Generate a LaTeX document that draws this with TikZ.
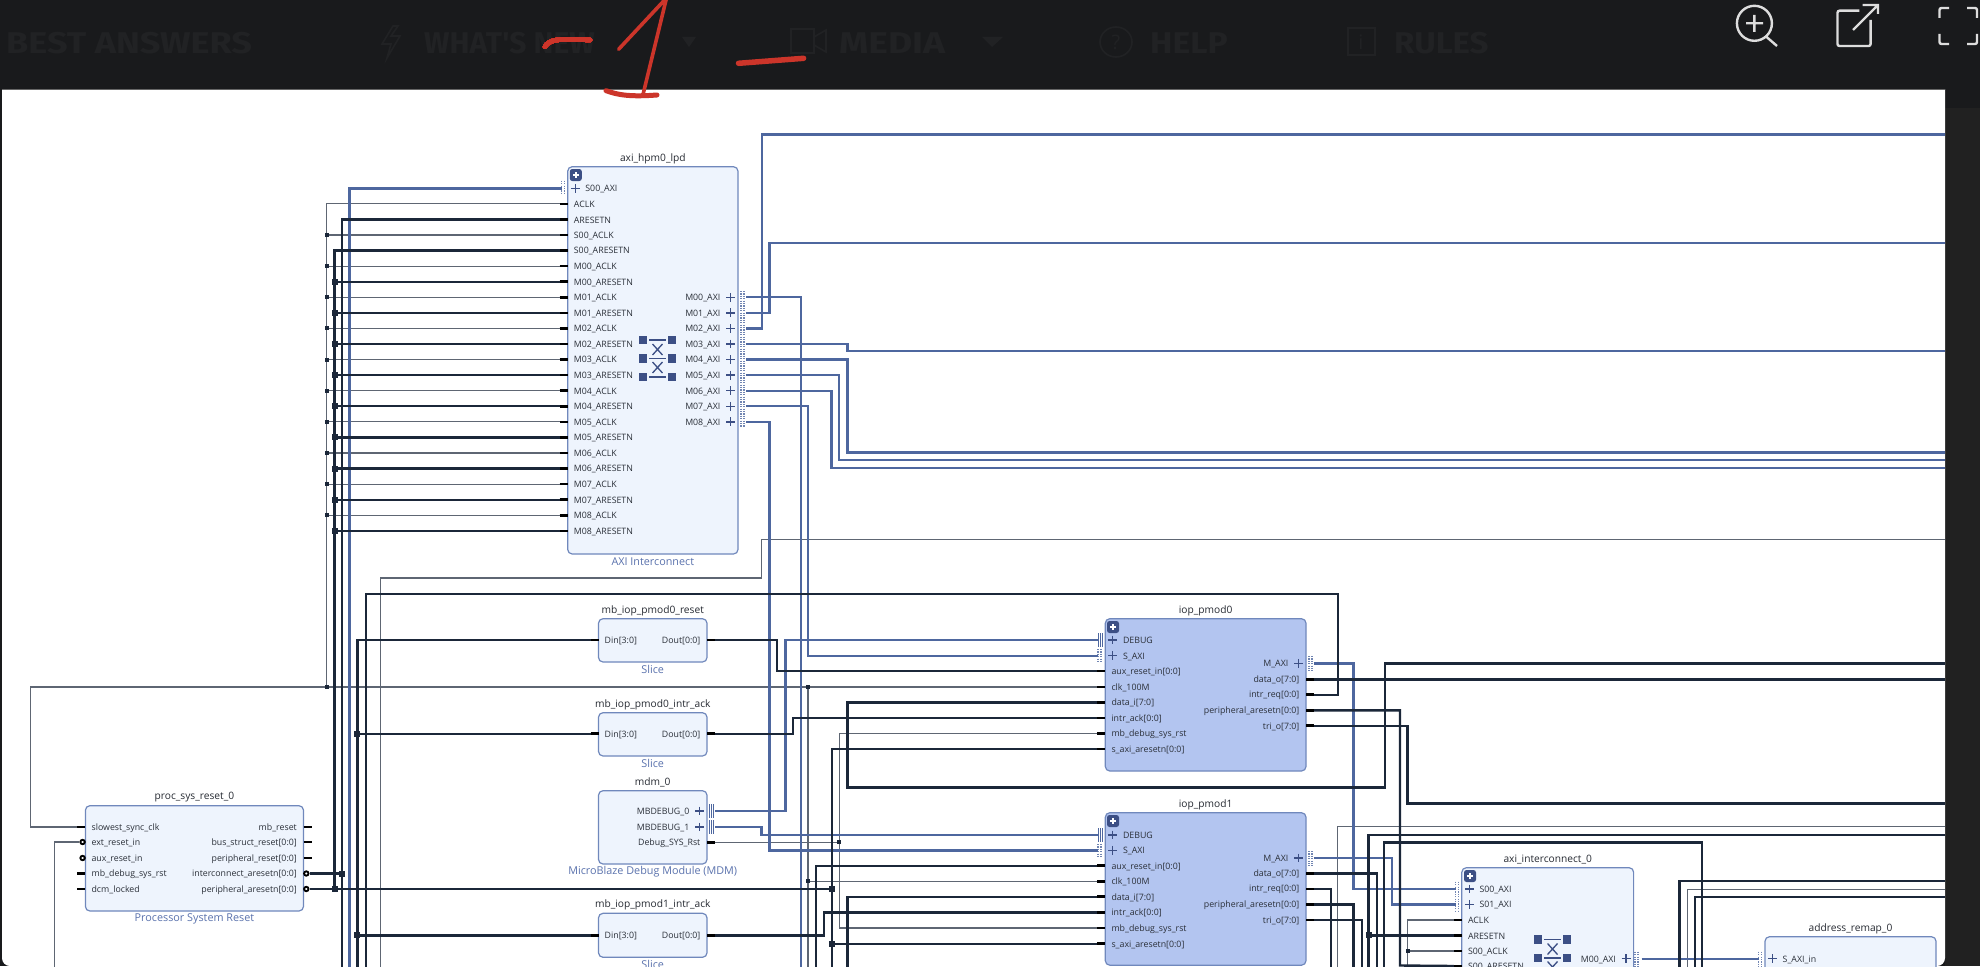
\documentclass[tikz,border=0pt]{standalone}
\usepackage{fontspec}
\setmainfont{Open Sans}
\newfontfamily\hdr{Fira Sans}
\definecolor{wthick}{HTML}{1B2739}
\definecolor{wthin}{HTML}{5E6673}
\definecolor{wblue}{HTML}{4E679F}
\definecolor{boxedge}{HTML}{7088BC}
\definecolor{boxfill}{HTML}{EEF4FD}
\definecolor{hierfill}{HTML}{B3C5F0}
\definecolor{navy}{HTML}{3C4F85}
\definecolor{lab}{HTML}{2A2F38}
\definecolor{sublab}{HTML}{5A72AD}
\definecolor{hbg}{HTML}{191A1C}
\definecolor{hfaint}{HTML}{212224}
\definecolor{scrib}{HTML}{CC352A}
\definecolor{icn}{HTML}{DDDDDD}
\tikzset{
  x=1pt,y=-1pt,
  thinw/.style={draw=wthin,line width=1.1pt},
  bluew/.style={draw=wblue,line width=2.4pt},
  thickw/.style={draw=wthick,line width=2.4pt},
  stub/.style={draw=black,line width=2.6pt},
  plabel/.style={text=lab,inner sep=0pt,font=\fontsize{8.8}{10}\selectfont},
  ttl/.style={text=lab!90!black,inner sep=0pt,font=\fontsize{10.2}{11}\selectfont},
  sub/.style={text=sublab,inner sep=0pt,font=\fontsize{10.8}{12}\selectfont},
  ip/.style={draw=boxedge,fill=boxfill,line width=1.2pt,rounded corners=4.5pt,inner sep=0pt,outer sep=0pt},
  hier/.style={draw=boxedge,fill=hierfill,line width=1.2pt,rounded corners=4.5pt,inner sep=0pt,outer sep=0pt},
  hdrtext/.style={text=hfaint,inner sep=0pt,font=\hdr\bfseries\fontsize{30}{32}\selectfont},
  hicon/.style={draw=hfaint,line width=1.6pt},
  icon/.style={draw=icn,line width=2.4pt},
  red/.style={draw=scrib,line width=4.5pt,line cap=round,line join=round}
}
\newcommand{\blockbox}[8]{% name,x1,y1,x2,y2,title,sub,style
  \node[#8,minimum width={(#4-#2)*1pt},minimum height={(#5-#3)*1pt}] (#1) at ({(#2+#4)/2},{(#3+#5)/2}) {};
  \node[ttl] (#1-title) at ({(#2+#4)/2},#3-8.3) {#6};
  \def\subtmp{#7}\ifx\subtmp\empty\else
  \node[sub] (#1-sub) at ({(#2+#4)/2},#5+7.5) {#7};\fi}
\newcommand{\portL}[4]{%
  \coordinate (#1) at (#2-8,#3);
  \draw[stub] (#2-8,#3) -- (#2,#3);
  \node[plabel,anchor=west] (#1-t) at (#2+6,#3+0.8) {#4};}
\newcommand{\portR}[4]{%
  \coordinate (#1) at (#2+8,#3);
  \draw[stub] (#2,#3) -- (#2+8,#3);
  \node[plabel,anchor=east] (#1-t) at (#2-6.5,#3+0.8) {#4};}
\newcommand{\invL}[4]{%
  \coordinate (#1) at (#2-6,#3);
  \node[plabel,anchor=west] (#1-t) at (#2+6,#3+0.8) {#4};
  \draw[black,line width=1.9pt,fill=white] (#2-2.8,#3) circle (2.2);}
\newcommand{\invR}[4]{%
  \coordinate (#1) at (#2+6,#3);
  \node[plabel,anchor=east] (#1-t) at (#2-6.5,#3+0.8) {#4};
  \draw[black,line width=1.9pt,fill=white] (#2+2.8,#3) circle (2.2);}
\newcommand{\plusmark}[2]{%
  \draw[navy,line width=1.3pt] (#1-4.4,#2) -- (#1+4.4,#2) (#1,#2-4.4) -- (#1,#2+4.4);}
\newcommand{\axiL}[5][-7]{% offset, name, edge, y, text
  \coordinate (#2) at (#3#1,#4);
  \plusmark{#3+7.5}{#4}
  \node[plabel,anchor=west] (#2-t) at (#3+17.5,#4+0.8) {#5};}
\newcommand{\axiR}[4]{%
  \coordinate (#1) at (#2+8,#3);
  \plusmark{#2-7.5}{#3}
  \node[plabel,anchor=east] (#1-t) at (#2-17.5,#3+0.8) {#4};}
\newcommand{\stripe}[3]{% x,y1,y2
  \draw[draw=wblue!80!white,line width=1.5pt,dash pattern=on 1.2pt off 1.2pt] (#1,#2) -- (#1,#3) (#1+3,#2) -- (#1+3,#3);}
\newcommand{\tripstripe}[3]{%
  \draw[draw=wblue,line width=.8pt] (#1,#2) -- (#1,#3) (#1+2.4,#2) -- (#1+2.4,#3) (#1+4.8,#2) -- (#1+4.8,#3);}
\newcommand{\btn}[2]{%
  \fill[navy,rounded corners=2.5pt] (#1-6,#2-6) rectangle (#1+6,#2+6);
  \draw[white,line width=1.5pt] (#1-3,#2) -- (#1+3,#2) (#1,#2-3) -- (#1,#2+3);}
\newcommand{\xbar}[2]{%
  \foreach \dy in {-18.5,0,18.5} {
    \fill[navy] (#1-18.5,#2+\dy-4.3) rectangle (#1-10.2,#2+\dy+4.3);
    \fill[navy] (#1+10.2,#2+\dy-4.3) rectangle (#1+18.5,#2+\dy+4.3);
    \draw[navy,line width=1.3pt] (#1-8.5,#2+\dy) -- (#1+8.5,#2+\dy);}
  \draw[navy,line width=1.3pt] (#1-5,#2-14.5) -- (#1+5,#2-3.5) (#1+5,#2-14.5) -- (#1-5,#2-3.5)
     (#1-5,#2+3.5) -- (#1+5,#2+14.5) (#1+5,#2+3.5) -- (#1-5,#2+14.5);}
\newcommand{\dotS}[1]{\fill[wthick] (#1) +(-2,-2) rectangle +(2,2);}
\newcommand{\dotB}[1]{\fill[wthick] (#1) +(-3,-3) rectangle +(3,3);}
\begin{document}
\catcode`\_=12
\begin{tikzpicture}
\useasboundingbox (0,0) rectangle (1980,966);
\clip (0,0) rectangle (1980,966);
% ---------- screenshot frame ----------
\fill[hbg] (0,0) rectangle (1980,966);
\fill[black!87] (1945,108) rectangle (1980,966);
\fill[white] (2,89) -- (1945,89) [rounded corners=8pt] -- (1945,966) -- (2,966) [sharp corners] -- (2,89) -- cycle;
\draw[draw=black!60,line width=1pt] (2,89) -- (1945,89);
\node[hdrtext,anchor=west] (hA) at (6,43) {\scalebox{1.2}[1]{BEST ANSWERS}};
\node[hdrtext,anchor=west] (hB) at (424,43) {WHAT'S NEW};
\node[hdrtext,anchor=west] (hC) at (839,43) {\scalebox{1.24}[1]{MEDIA}};
\node[hdrtext,anchor=west] (hD) at (1150,43) {\scalebox{1.12}[1]{HELP}};
\node[hdrtext,anchor=west] (hE) at (1394,43) {\scalebox{1.1}[1]{RULES}};
\draw[hicon] (393,26) -- (382,44) -- (391,44) -- (387,58) -- (400,36) -- (391,36) -- (398,26) -- cycle;
\fill[hfaint] (682,37) -- (696,37) -- (689,47) -- cycle;
\draw[hicon] (791,29) rectangle (814,53) (814,37) -- (826,30) -- (826,52) -- (814,45);
\fill[hfaint] (982,37) -- (1003,37) -- (992,47) -- cycle;
\draw[hicon] (1116,42) ellipse (16 and 15);
\node[text=hfaint,inner sep=0pt,font=\fontsize{20}{22}\selectfont] (hq) at (1116,42) {?};
\draw[hicon] (1348,28) rectangle (1375,55);
\node[text=hfaint,inner sep=0pt,font=\fontsize{20}{22}\selectfont] (hi) at (1361,42) {i};
% white icons
\draw[icon] (1754.4,23.3) circle (17.5) (1746,23.3) -- (1763,23.3) (1754.4,15) -- (1754.4,32) (1766,36.5) -- (1777,46);
\draw[icon,rounded corners=2pt] (1859.4,10.7) -- (1837.5,10.7) -- (1837.5,46) -- (1870.6,46) -- (1870.6,20);
\draw[icon] (1853,30) -- (1878,5) (1862.5,5) -- (1878,5) -- (1878,14);
\draw[icon,rounded corners=2pt] (1939.5,18) -- (1939.5,8) -- (1949,8) (1967,8) -- (1977,8) -- (1977,18) (1977,34) -- (1977,44) -- (1967,44) (1949,44) -- (1939.5,44) -- (1939.5,34);
% ---------- blocks ----------
\blockbox{hpm}{567.7}{166.7}{738}{554}{axi_hpm0_lpd}{AXI Interconnect}{ip}
\btn{575.8}{175}
\stripe{561.5}{180.7}{195}
\axiL[-6]{hpm-S00_AXI}{567.7}{188.5}{S00_AXI}
\foreach \n [count=\k from 1] in {ACLK,ARESETN,S00_ACLK,S00_ARESETN,M00_ACLK,M00_ARESETN,M01_ACLK,M01_ARESETN,M02_ACLK,M02_ARESETN,M03_ACLK,M03_ARESETN,M04_ACLK,M04_ARESETN,M05_ACLK,M05_ARESETN,M06_ACLK,M06_ARESETN,M07_ACLK,M07_ARESETN,M08_ACLK,M08_ARESETN} {
  \pgfmathsetmacro\yy{188.3+15.57*\k}
  \portL{hpm-\n}{567.7}{\yy}{\n}
}
\foreach \n [count=\k from 7] in {M00,M01,M02,M03,M04,M05,M06,M07,M08} {
  \pgfmathsetmacro\yy{188.3+15.57*\k}
  \axiR{hpm-\n}{738}{\yy}{\n_AXI}
}
\stripe{741}{291}{427}
\xbar{657.5}{358.5}

\blockbox{proc}{85.4}{805.7}{303.5}{911}{proc_sys_reset_0}{Processor System Reset}{ip}
\portL{proc-slow}{85.4}{827}{slowest_sync_clk}
\invL{proc-ext}{85.4}{842}{ext_reset_in}
\invL{proc-aux}{85.4}{858}{aux_reset_in}
\portL{proc-dbg}{85.4}{873.5}{mb_debug_sys_rst}
\portL{proc-dcm}{85.4}{889}{dcm_locked}
\portR{proc-mb}{303.5}{827}{mb_reset}
\portR{proc-bus}{303.5}{842}{bus_struct_reset[0:0]}
\portR{proc-prs}{303.5}{858}{peripheral_reset[0:0]}
\invR{proc-int}{303.5}{873.5}{interconnect_aresetn[0:0]}
\invR{proc-per}{303.5}{889}{peripheral_aresetn[0:0]}

\blockbox{s0}{598.5}{618.7}{707}{662}{mb_iop_pmod0_reset}{Slice}{ip}
\portL{s0-Din}{598.5}{640}{Din[3:0]}
\portR{s0-Dout}{707}{640}{Dout[0:0]}
\blockbox{s1}{598.5}{712.7}{707}{756}{mb_iop_pmod0_intr_ack}{Slice}{ip}
\portL{s1-Din}{598.5}{733.7}{Din[3:0]}
\portR{s1-Dout}{707}{733.7}{Dout[0:0]}
\blockbox{s2}{598.5}{913.3}{707}{957.3}{mb_iop_pmod1_intr_ack}{Slice}{ip}
\portL{s2-Din}{598.5}{935.3}{Din[3:0]}
\portR{s2-Dout}{707}{935.3}{Dout[0:0]}

\blockbox{mdm}{598.5}{790.7}{707}{864}{mdm_0}{MicroBlaze Debug Module (MDM)}{ip}
\axiR{mdm-D0}{707}{811}{MBDEBUG_0}
\axiR{mdm-D1}{707}{827}{MBDEBUG_1}
\portR{mdm-rst}{707}{842.3}{Debug_SYS_Rst}
\tripstripe{709}{804}{818}
\tripstripe{709}{820}{834}

\blockbox{p0}{1105.3}{618.7}{1306}{771}{iop_pmod0}{}{hier}
\btn{1113}{627}
\tripstripe{1098}{633}{647}
\stripe{1098}{649}{662}
\axiL{p0-DEBUG}{1105.3}{640}{DEBUG}
\axiL{p0-SAXI}{1105.3}{655.7}{S_AXI}
\portL{p0-aux}{1105.3}{671}{aux_reset_in[0:0]}
\portL{p0-clk}{1105.3}{687}{clk_100M}
\portL{p0-datai}{1105.3}{702.3}{data_i[7:0]}
\portL{p0-ack}{1105.3}{718}{intr_ack[0:0]}
\portL{p0-mb}{1105.3}{733.7}{mb_debug_sys_rst}
\portL{p0-saxi}{1105.3}{749}{s_axi_aresetn[0:0]}
\axiR{p0-M}{1306}{663.3}{M_AXI}
\stripe{1309}{656}{671}
\portR{p0-data}{1306}{679.3}{data_o[7:0]}
\portR{p0-intr}{1306}{694.7}{intr_req[0:0]}
\portR{p0-per}{1306}{710.3}{peripheral_aresetn[0:0]}
\portR{p0-tri}{1306}{725.7}{tri_o[7:0]}

\blockbox{p1}{1105.3}{812.7}{1306}{965.2}{iop_pmod1}{}{hier}
\btn{1113}{821}
\tripstripe{1098}{828}{842}
\stripe{1098}{844}{857}
\axiL{p1-DEBUG}{1105.3}{835}{DEBUG}
\axiL{p1-SAXI}{1105.3}{850.3}{S_AXI}
\portL{p1-aux}{1105.3}{865.7}{aux_reset_in[0:0]}
\portL{p1-clk}{1105.3}{881.3}{clk_100M}
\portL{p1-datai}{1105.3}{896.7}{data_i[7:0]}
\portL{p1-ack}{1105.3}{912.3}{intr_ack[0:0]}
\portL{p1-mb}{1105.3}{928}{mb_debug_sys_rst}
\portL{p1-saxi}{1105.3}{943.7}{s_axi_aresetn[0:0]}
\axiR{p1-M}{1306}{858}{M_AXI}
\stripe{1309}{851}{866}
\portR{p1-data}{1306}{873.3}{data_o[7:0]}
\portR{p1-intr}{1306}{889}{intr_req[0:0]}
\portR{p1-per}{1306}{904.3}{peripheral_aresetn[0:0]}
\portR{p1-tri}{1306}{920}{tri_o[7:0]}

\blockbox{ic}{1461.8}{867.7}{1633.6}{1010}{axi_interconnect_0}{}{ip}
\btn{1470}{876}
\stripe{1455.5}{881.7}{911.7}
\axiL[-6]{ic-S00}{1461.8}{889}{S00_AXI}
\axiL[-6]{ic-S01}{1461.8}{904.3}{S01_AXI}
\portL{ic-ACLK}{1461.8}{920}{ACLK}
\portL{ic-ARESETN}{1461.8}{935.3}{ARESETN}
\portL{ic-S00C}{1461.8}{951}{S00_ACLK}
\portL{ic-S00R}{1461.8}{966}{S00_ARESETN}
\axiR{ic-M00}{1633.6}{958.7}{M00_AXI}
\stripe{1635}{951.7}{970}
\xbar{1552.5}{958}

\blockbox{ar}{1765}{936.7}{1936}{1010}{address_remap_0}{}{ip}
\stripe{1758.5}{951.7}{970}
\axiL[-6]{ar-S}{1765}{958.7}{S_AXI_in}

% ---------- free ends ----------
\foreach \n/\x in {b55/54.7,b342/342,b349/349.5,b357/357.3,b366/365.7,b381/380.9,b801/800.7,b808/808,b816/816,b832/831.7,b847/847.3,b1331/1330.7,b1338/1337.7,b1353/1353.3,b1362/1361.7,b1369/1368.5,b1377/1376.7,b1384/1384,b1407/1407.5,b1679/1679.3,b1688/1687.7,b1695/1695,b1702/1702}
  \coordinate (\n) at (\x,967);
\foreach \n/\y in {r134/134.3,r243/242.7,r351/351,r452/452.3,r460/460,r468/468,r539/539.3,r663/663.3,r680/679.3,r803/803.3,r827/826.8,r835/834.7,r881/880.7,r889/889.3,r897/896.7}
  \coordinate (\n) at (1945,\y);
\coordinate (xclk) at (326.5,0);
\coordinate (xper) at (334.6,0);
\coordinate (xleft) at (30.7,0);
\coordinate (xdbg) at (839.3,0);
% ---------- thin wires ----------
\begin{scope}[thinw]
\draw (proc-slow) -| (xleft |- p0-clk) -- (p0-clk);
\draw (hpm-ACLK) -| (xclk |- p0-clk);
\foreach \n in {S00,M00,M01,M02,M03,M04,M05,M06,M07,M08}
  \draw (hpm-\n_ACLK) -- (xclk |- hpm-\n_ACLK);
\draw (proc-ext) -| (b55);
\draw (b381) |- (761.7,578) |- (r539);
\draw (b808 |- p0-clk) -- (b808);
\draw (p1-clk) -- (b808 |- p1-clk);
\draw (mdm-rst) -- (xdbg |- mdm-rst);
\draw (p0-mb) -| (xdbg |- p1-mb) -- (p1-mb);
\draw (r827) -| (b1338);
\draw (r889) -| (b1688);
\draw (ic-ACLK) -| (b1407);
\draw (ic-S00C) -- (b1407 |- ic-S00C);
\end{scope}
% ---------- bus wires ----------
\begin{scope}[bluew]
\draw (hpm-S00_AXI) -| (b349);
\draw (hpm-M00) -| (b801);
\draw (hpm-M01) -| (769.3,242.7) -- (r243);
\draw (hpm-M02) -| (761.7,134.3) -- (r134);
\draw (hpm-M03) -| (847.6,351) -- (r351);
\draw (hpm-M04) -| (847.6,452.3) -- (r452);
\draw (hpm-M05) -| (839,460) -- (r460);
\draw (hpm-M06) -| (831.6,468) -- (r468);
\draw (hpm-M07) -| (807.8,655.7) -- (p0-SAXI);
\draw (hpm-M08) -| (769.4,850.3) -- (p1-SAXI);
\draw (mdm-D0) -| (785.4,640) -- (p0-DEBUG);
\draw (mdm-D1) -| (761.4,835) -- (p1-DEBUG);
\draw (p0-M) -| (1353.5,889) -- (ic-S00);
\draw (p1-M) -| (1391.7,904.3) -- (ic-S01);
\draw (ic-M00) -- (ar-S);
\end{scope}
% ---------- thick wires ----------
\begin{scope}[thickw]
\draw (hpm-ARESETN) -| (b342);
\draw (hpm-S00_ARESETN) -| (xper |- proc-per);
\foreach \n in {M00,M01,M02,M03,M04,M05,M06,M07,M08}
  \draw (hpm-\n_ARESETN) -- (xper |- hpm-\n_ARESETN);
\draw (proc-int) -- (b342 |- proc-int);
\draw (proc-per) -- (b832 |- proc-per);
\draw (s0-Din) -| (b357);
\draw (s1-Din) -- (b357 |- s1-Din);
\draw (s2-Din) -- (b357 |- s2-Din);
\draw (s0-Dout) -| (777,671) -- (p0-aux);
\draw (s1-Dout) -| (793,718) -- (p0-ack);
\draw (s2-Dout) -| (824,912.3) -- (p1-ack);
\draw (p0-intr) -| (1337.7,594) -- (365.7,594) -- (b366);
\draw (p0-datai) -| (847.3,787.3) -- (1385,787.3) |- (r663);
\draw (p0-saxi) -| (b832);
\draw (p1-saxi) -- (b832 |- p1-saxi);
\draw (p1-aux) -| (b816);
\draw (p1-datai) -| (b847);
\draw (p0-data) -- (r680);
\draw (p0-per) -| (1400,965.5) -- (ic-S00R);
\draw (p0-tri) -| (1407.5,803.3) -- (r803);
\draw (p1-data) -| (b1377);
\draw (p1-intr) -| (b1331);
\draw (p1-per) -| (b1353);
\draw (p1-tri) -| (b1362);
\draw (r835) -| (b1369);
\draw (ic-ARESETN) -- (b1369 |- ic-ARESETN);
\draw (b1384) |- (1702,842.3) -- (b1702);
\draw (r881) -| (b1679);
\draw (r897) -| (b1695);
\end{scope}
% ---------- junctions ----------
\foreach \n in {S00,M00,M01,M02,M03,M04,M05,M06,M07,M08} \dotS{xclk |- hpm-\n_ACLK}
\foreach \n in {M00,M01,M02,M03,M04,M05,M06,M07,M08} \dotB{xper |- hpm-\n_ARESETN}
\dotS{xclk |- p0-clk}
\dotS{b808 |- p0-clk}
\dotS{b808 |- p1-clk}
\dotS{xdbg |- mdm-rst}
\dotS{b1407 |- ic-S00C}
\dotB{b342 |- proc-int}
\dotB{xper |- proc-per}
\dotB{b832 |- proc-per}
\dotB{b832 |- p1-saxi}
\dotB{b357 |- s1-Din}
\dotB{b357 |- s2-Din}
\dotB{b1369 |- ic-ARESETN}
% ---------- red scribble ----------
\draw[red] (545,46.7) .. controls (549,40) and (556,38) .. (590,40);
\draw[red,line width=3.6pt] (618.6,49.3) -- (666.5,-2) -- (642.9,95);
\draw[red,line width=5pt] (606,90.7) .. controls (618,95) and (630,97) .. (657,95);
\draw[red,line width=5.5pt] (738.5,63.3) -- (803.6,58.3);
\end{tikzpicture}
\end{document}
